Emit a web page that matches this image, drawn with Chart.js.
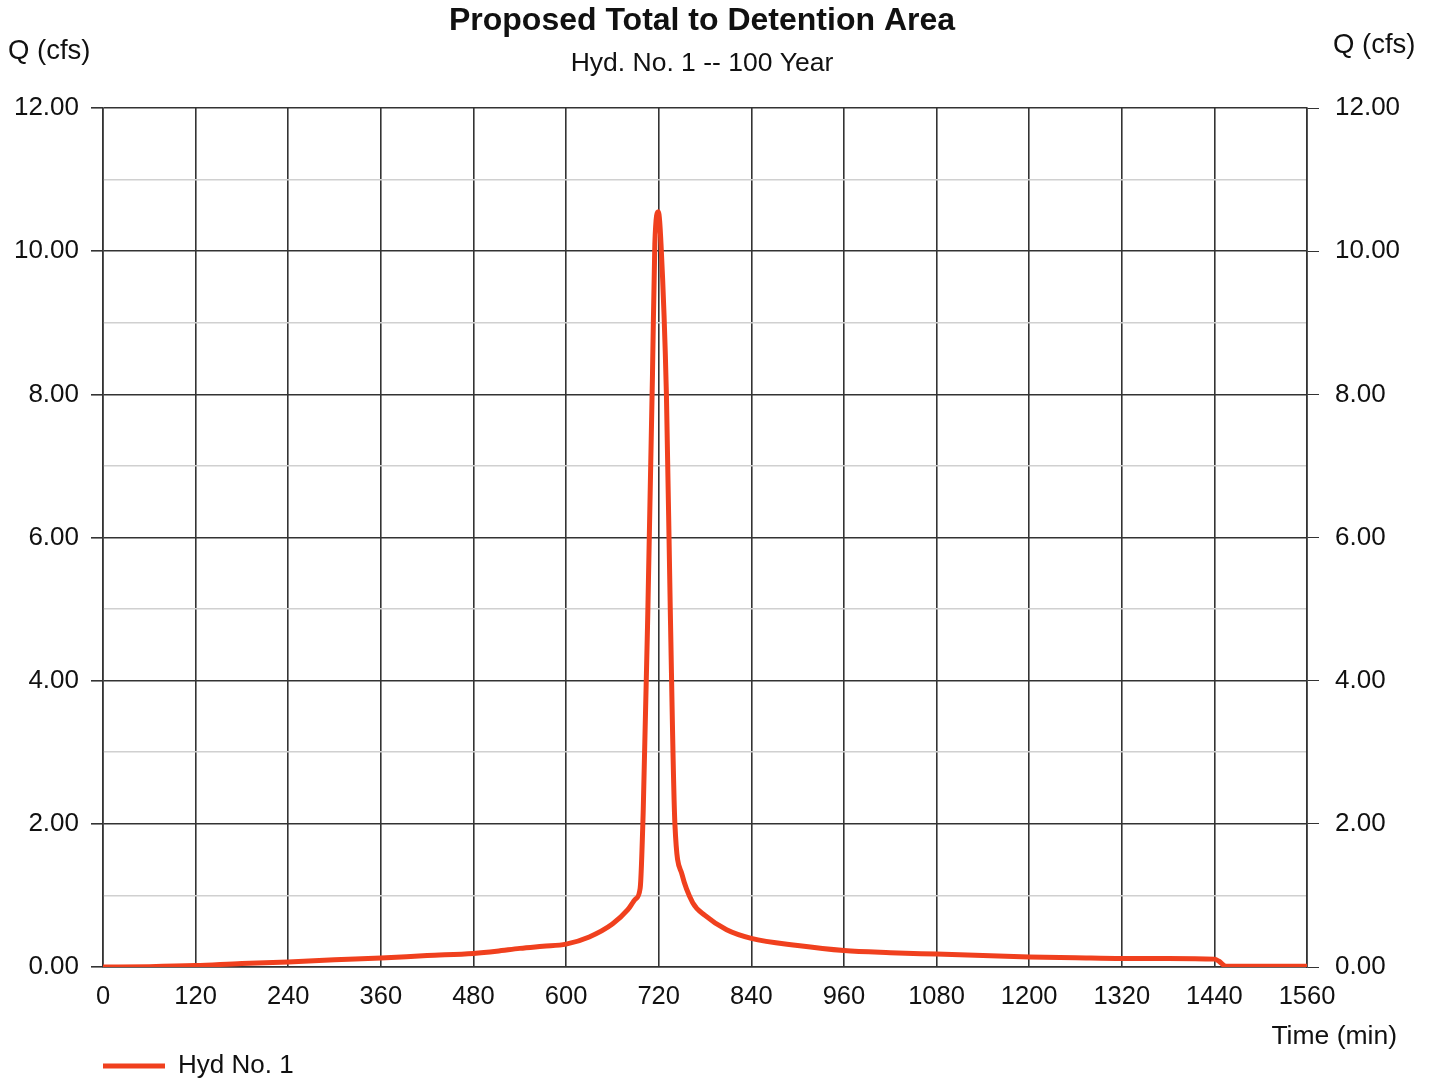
<!DOCTYPE html>
<html>
<head>
<meta charset="utf-8">
<script src="https://cdn.jsdelivr.net/npm/chart.js@4.4.1/dist/chart.umd.min.js"></script>
<style>
html,body{margin:0;padding:0;background:#fff;}
#wrap{width:1429px;height:1080px;position:relative;}
</style>
</head>
<body>
<div id="wrap"><canvas id="c" width="1429" height="1080"></canvas></div>
<script>
// ---- data ----
const chartTitle = "Proposed Total to Detention Area";
const chartSubtitle = "Hyd. No. 1 -- 100 Year";
const yAxisLabel = "Q (cfs)";
const xAxisLabel = "Time (min)";
const seriesName = "Hyd No. 1";
const timeMin = [0, 60, 120, 180, 240, 300, 360, 420, 480, 510, 540, 570, 600, 630, 660, 680, 690, 696, 700, 706, 712, 715, 719.5, 723, 730, 735, 741, 750, 764, 780, 808, 840, 900, 960, 1020, 1080, 1140, 1200, 1260, 1320, 1380, 1440, 1446, 1455, 1500, 1560];
const flowCfs = [0, 0.005, 0.02, 0.05, 0.07, 0.10, 0.125, 0.16, 0.19, 0.22, 0.26, 0.29, 0.32, 0.42, 0.60, 0.80, 0.95, 1.1, 2.2, 5.0, 8.3, 10.1, 10.55, 10.1, 8.0, 5.0, 2.0, 1.3, 0.9, 0.72, 0.52, 0.40, 0.30, 0.23, 0.20, 0.18, 0.16, 0.14, 0.13, 0.12, 0.12, 0.11, 0.08, 0.01, 0.01, 0.01];
const yTicks = [0, 2, 4, 6, 8, 10, 12];
const xTicks = [0, 120, 240, 360, 480, 600, 720, 840, 960, 1080, 1200, 1320, 1440, 1560];

const points = timeMin.map((t, i) => ({x: t, y: flowCfs[i]}));
const LINE = '#f0401e';
const FONT = "'Liberation Sans', Arial, sans-serif";

const textPlugin = {
  id: 'texts',
  afterDraw(chart) {
    const ctx = chart.ctx;
    ctx.save();
    ctx.fillStyle = '#111';
    ctx.textBaseline = 'middle';
    ctx.textAlign = 'center';
    ctx.font = "bold 32px " + FONT;
    ctx.fillText(chartTitle, 702, 21);
    ctx.font = "26.5px " + FONT;
    ctx.fillText(chartSubtitle, 702, 64);
    ctx.font = "27.5px " + FONT;
    ctx.textAlign = 'left';
    ctx.fillText(yAxisLabel, 8, 51);
    ctx.fillText(yAxisLabel, 1333, 45);
    ctx.font = "26.5px " + FONT;
    ctx.textAlign = 'right';
    ctx.fillText(xAxisLabel, 1397, 1037);
    // legend
    const ds = chart.data.datasets[0];
    ctx.strokeStyle = ds.borderColor;
    ctx.lineWidth = 5;
    ctx.beginPath();
    ctx.moveTo(103, 1066);
    ctx.lineTo(165, 1066);
    ctx.stroke();
    ctx.textAlign = 'left';
    ctx.fillStyle = '#111';
    ctx.font = "26px " + FONT;
    ctx.fillText(ds.label, 178, 1066);
    ctx.restore();
  }
};

const yGrid = {
  color: (c) => (c.tick && Math.round(c.tick.value) % 2 === 0) ? '#333' : '#d0d0d0',
  lineWidth: 1.6,
  tickLength: 12,
  tickColor: (c) => (c.tick && Math.round(c.tick.value) % 2 === 0) ? '#333' : 'rgba(0,0,0,0)'
};

new Chart(document.getElementById('c'), {
  type: 'line',
  data: {
    datasets: [{
      label: seriesName,
      data: points,
      borderColor: LINE,
      backgroundColor: LINE,
      borderWidth: 5,
      pointRadius: 0,
      cubicInterpolationMode: 'monotone',
      fill: false
    }]
  },
  options: {
    responsive: false,
    animation: false,
    devicePixelRatio: 1,
    layout: {padding: {top: 108, bottom: 0, left: 0, right: 0}},
    plugins: {legend: {display: false}, title: {display: false}, tooltip: {enabled: false}},
    scales: {
      x: {
        type: 'linear',
        min: 0, max: 1560,
        afterBuildTicks: (s) => { s.ticks = xTicks.map(v => ({value: v})); },
        afterFit: (s) => { s.height = 113; },
        ticks: {color: '#111', font: {family: FONT, size: 25.5}, padding: 7, maxRotation: 0, autoSkip: false, callback: (v) => String(v)},
        grid: {color: '#333', lineWidth: 1.6, tickLength: 8, tickColor: 'rgba(0,0,0,0)'},
        border: {color: '#333', width: 1.6}
      },
      y: {
        position: 'left',
        min: 0, max: 12,
        afterBuildTicks: (s) => { s.ticks = Array.from({length: 13}, (_, i) => ({value: i})); },
        afterFit: (s) => { s.width = 103; },
        ticks: {color: '#111', font: {family: FONT, size: 26}, padding: 12, autoSkip: false,
          callback: (v) => yTicks.includes(v) ? Number(v).toFixed(2) : ''},
        grid: yGrid,
        border: {color: '#333', width: 1.6}
      },
      y2: {
        position: 'right',
        min: 0, max: 12,
        afterBuildTicks: (s) => { s.ticks = Array.from({length: 13}, (_, i) => ({value: i})); },
        afterFit: (s) => { s.width = 122; },
        ticks: {color: '#111', font: {family: FONT, size: 26}, padding: 16, autoSkip: false,
          callback: (v) => yTicks.includes(v) ? Number(v).toFixed(2) : ''},
        grid: {drawOnChartArea: false, tickLength: 12, tickColor: (c) => (c.tick && Math.round(c.tick.value) % 2 === 0) ? '#333' : 'rgba(0,0,0,0)'},
        border: {color: '#333', width: 1.6}
      }
    }
  },
  plugins: [textPlugin]
});
</script>
</body>
</html>
